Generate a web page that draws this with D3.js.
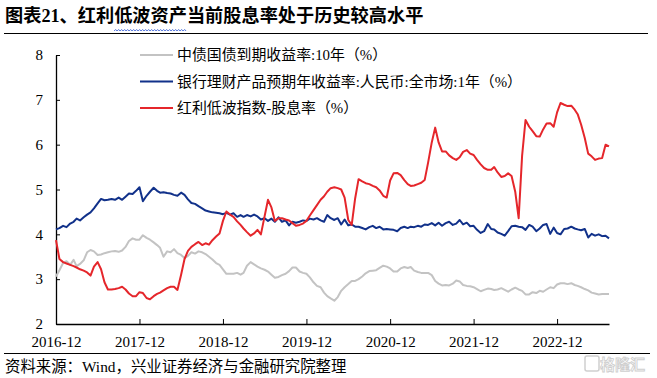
<!DOCTYPE html>
<html><head><meta charset="utf-8">
<script src="https://cdn.jsdelivr.net/npm/d3@7"></script>
<style>body{margin:0;background:#fff}svg{display:block}</style>
</head><body>
<svg id="c" width="657" height="378"></svg>
<script>
const titleText = "图表21、红利低波资产当前股息率处于历史较高水平";
const sourceText = "资料来源：Wind，兴业证券经济与金融研究院整理";
const seriesNames = ["中债国债到期收益率:10年（%）", "银行理财产品预期年收益率:人民币:全市场:1年（%）", "红利低波指数-股息率（%）"];
const seriesColors = ["#C3C3C3", "#11318A", "#E5262B"];
const startDate = "2016-12-01"; // semi-monthly observations (1st and 16th)
const xTickLabels = ["2016-12","2017-12","2018-12","2019-12","2020-12","2021-12","2022-12"];
const yTicks = [2,3,4,5,6,7,8];

const bondYield = [
3.06,3.20,3.36,3.40,3.32,3.43,3.29,3.34,3.42,3.60,
3.65,3.62,3.54,3.55,3.58,3.60,3.62,3.63,3.61,3.64,
3.72,3.85,3.91,3.88,3.88,3.98,3.92,3.88,3.82,3.76,
3.70,3.50,3.62,3.60,3.67,3.58,3.54,3.47,3.52,3.60,
3.57,3.62,3.60,3.56,3.50,3.44,3.36,3.32,3.22,3.12,
3.12,3.12,3.14,3.10,3.14,3.30,3.38,3.33,3.28,3.24,
3.21,3.17,3.10,3.03,3.05,3.09,3.12,3.18,3.26,3.26,
3.17,3.14,3.12,3.04,2.93,2.85,2.82,2.70,2.62,2.57,
2.52,2.60,2.74,2.82,2.89,2.96,2.96,3.00,3.06,3.13,
3.18,3.19,3.20,3.25,3.30,3.28,3.24,3.17,3.17,3.24,
3.27,3.25,3.27,3.19,3.16,3.14,3.14,3.14,3.09,2.96,
2.90,2.86,2.87,2.86,2.90,2.97,2.95,2.87,2.85,2.84,
2.82,2.78,2.73,2.76,2.79,2.78,2.76,2.77,2.80,2.76,
2.72,2.77,2.81,2.77,2.74,2.66,2.66,2.71,2.69,2.74,
2.72,2.77,2.82,2.80,2.88,2.91,2.91,2.89,2.91,2.87,
2.85,2.82,2.78,2.75,2.70,2.68,2.66,2.67,2.67,2.67];

const wmpYield = [
4.11,4.14,4.19,4.16,4.24,4.28,4.35,4.31,4.38,4.44,
4.49,4.58,4.69,4.79,4.76,4.77,4.79,4.77,4.82,4.77,
4.84,4.91,4.90,4.97,5.05,4.74,4.86,4.95,5.04,4.97,
4.93,4.94,4.92,4.91,4.88,4.86,4.93,4.88,4.78,4.70,
4.68,4.63,4.58,4.53,4.51,4.49,4.48,4.47,4.45,4.48,
4.44,4.47,4.39,4.43,4.39,4.43,4.40,4.44,4.40,4.33,
4.36,4.30,4.35,4.28,4.38,4.28,4.31,4.20,4.28,4.26,
4.28,4.31,4.30,4.35,4.33,4.36,4.31,4.28,4.43,4.36,
4.32,4.36,4.22,4.33,4.20,4.22,4.17,4.17,4.14,4.11,
4.16,4.19,4.14,4.17,4.11,4.12,4.11,4.10,4.07,4.14,
4.17,4.14,4.17,4.16,4.19,4.17,4.22,4.21,4.25,4.20,
4.26,4.19,4.25,4.28,4.21,4.24,4.32,4.22,4.26,4.18,
4.19,4.10,4.03,4.07,4.23,4.12,4.11,4.04,4.01,3.97,
4.07,4.18,4.19,4.17,4.16,4.10,4.21,4.17,4.07,4.13,
4.21,4.23,4.01,4.15,4.03,4.00,4.12,4.13,4.17,4.13,
4.11,4.09,4.12,3.93,4.01,3.97,4.00,3.96,3.97,3.91];

const dividendYield = [
3.87,3.45,3.38,3.35,3.32,3.29,3.26,3.22,3.19,3.15,
3.08,3.28,3.38,3.22,2.93,2.77,2.77,2.78,2.80,2.83,
2.77,2.68,2.62,2.62,2.71,2.69,2.58,2.55,2.62,2.67,
2.70,2.75,2.80,2.83,2.83,2.76,3.10,3.45,3.63,3.72,
3.78,3.83,3.76,3.80,3.77,3.87,3.95,4.02,4.30,4.51,
4.44,4.39,4.29,4.21,4.13,4.05,3.97,4.02,4.10,4.00,
4.40,4.77,4.60,4.30,4.36,4.36,4.33,4.31,4.25,4.19,
4.21,4.24,4.30,4.42,4.54,4.65,4.77,4.85,4.95,5.03,
5.05,5.03,5.00,4.82,4.32,4.21,4.80,5.23,5.18,5.14,
5.12,5.08,5.05,4.98,4.86,4.82,5.20,5.36,5.37,5.32,
5.21,5.12,5.08,5.09,5.12,5.15,5.21,5.60,6.05,6.38,
6.05,5.85,5.85,5.76,5.70,5.66,5.72,5.84,5.88,5.80,
5.77,5.66,5.56,5.48,5.44,5.44,5.50,5.38,5.28,5.30,
5.36,5.30,4.95,4.36,5.75,6.55,6.40,6.30,6.19,6.18,
6.34,6.47,6.48,6.40,6.72,6.93,6.89,6.86,6.87,6.78,
6.68,6.45,6.15,5.80,5.74,5.66,5.69,5.70,6.00,5.96];

const svg = d3.select("#c");
const parseDay = d3.timeParse("%Y-%m-%d");
const parseMonth = d3.timeParse("%Y-%m");
const t0 = parseDay(startDate);
const dates = bondYield.map((_, i) => {
  const m = d3.timeMonth.offset(t0, Math.floor(i / 2));
  return i % 2 ? d3.timeDay.offset(m, 15) : m;
});

const x = d3.scaleTime().domain([t0, dates[dates.length - 1]]).range([56, 609]);
const y = d3.scaleLinear().domain([2, 8]).range([324, 55]);

const serif = "'Liberation Serif','Times New Roman',serif";
const cjk = "'Liberation Serif','Noto Sans CJK SC',serif";

// title
const title = svg.append("text").attr("x", 5).attr("y", 22)
  .attr("font-family", cjk)
  .attr("font-weight", "bold").attr("font-size", 18.2).attr("fill", "#000")
  .text(titleText);
svg.append("line").attr("x1", 4).attr("x2", 648).attr("y1", 33.5).attr("y2", 33.5)
  .attr("stroke", "#000").attr("stroke-width", 1.2);
// spell-check squiggle under 低波资产
try {
  const n = title.node();
  const xs = n.getStartPositionOfChar(7).x, xe = n.getEndPositionOfChar(10).x;
  const p = d3.path(); let k = 0;
  p.moveTo(xs, 31);
  for (let xx = xs + 1.5; xx <= xe; xx += 1.5) { k++; p.lineTo(xx, k % 2 ? 29.5 : 31); }
  svg.append("path").attr("d", p.toString()).attr("fill", "none").attr("stroke", "#3b62d6").attr("stroke-width", 0.9);
} catch (e) {}

// axes
const xAxis = d3.axisBottom(x)
  .tickValues(xTickLabels.map(parseMonth))
  .tickFormat(d3.timeFormat("%Y-%m"))
  .tickSizeInner(-5).tickSizeOuter(0).tickPadding(12);
const gx = svg.append("g").attr("transform", "translate(0,324)").call(xAxis);
const yAxis = d3.axisLeft(y).tickValues(yTicks).tickFormat(d3.format("d"))
  .tickSizeInner(-4).tickSizeOuter(0).tickPadding(13);
const gy = svg.append("g").attr("transform", "translate(56,0)").call(yAxis);
[gx, gy].forEach(g => {
  g.selectAll("path.domain").attr("stroke", "#000").attr("stroke-width", 1.3);
  g.selectAll(".tick line").attr("stroke", "#000").attr("stroke-width", 1);
  g.selectAll("text").attr("font-family", serif).attr("font-size", 15).attr("fill", "#000");
});

// lines
const series = [bondYield, wmpYield, dividendYield];
const line = d3.line().x((d, i) => x(dates[i])).y(d => y(d));
series.forEach((vals, s) => {
  svg.append("path").datum(vals).attr("d", line)
    .attr("fill", "none").attr("stroke", seriesColors[s])
    .attr("stroke-width", 2).attr("stroke-linejoin", "round");
});

// legend
const legendY = [55, 81.5, 108];
seriesNames.forEach((name, s) => {
  svg.append("line").attr("x1", 140).attr("x2", 173).attr("y1", legendY[s]).attr("y2", legendY[s])
    .attr("stroke", seriesColors[s]).attr("stroke-width", 2);
  svg.append("text").attr("x", 177).attr("y", legendY[s] + 5)
    .attr("font-family", cjk).attr("font-size", 14.9).attr("fill", "#000").text(name);
});

// source
svg.append("line").attr("x1", 4).attr("x2", 650).attr("y1", 353.5).attr("y2", 353.5)
  .attr("stroke", "#000").attr("stroke-width", 1.2);
svg.append("text").attr("x", 5).attr("y", 372)
  .attr("font-family", cjk).attr("font-size", 15.4).attr("fill", "#000").text(sourceText);

// watermark
svg.append("rect").attr("x", 585).attr("y", 356).attr("width", 14).attr("height", 15).attr("rx", 2)
  .attr("fill", "none").attr("stroke", "#cfcfcf").attr("stroke-width", 1.5);
svg.append("text").attr("x", 600).attr("y", 370).attr("font-family", "'Noto Sans CJK SC',sans-serif")
  .attr("font-size", 15).attr("font-weight", "bold").attr("fill", "#fff").attr("stroke", "#cfcfcf")
  .attr("stroke-width", 0.9).text("格隆汇");
</script>
</body></html>
